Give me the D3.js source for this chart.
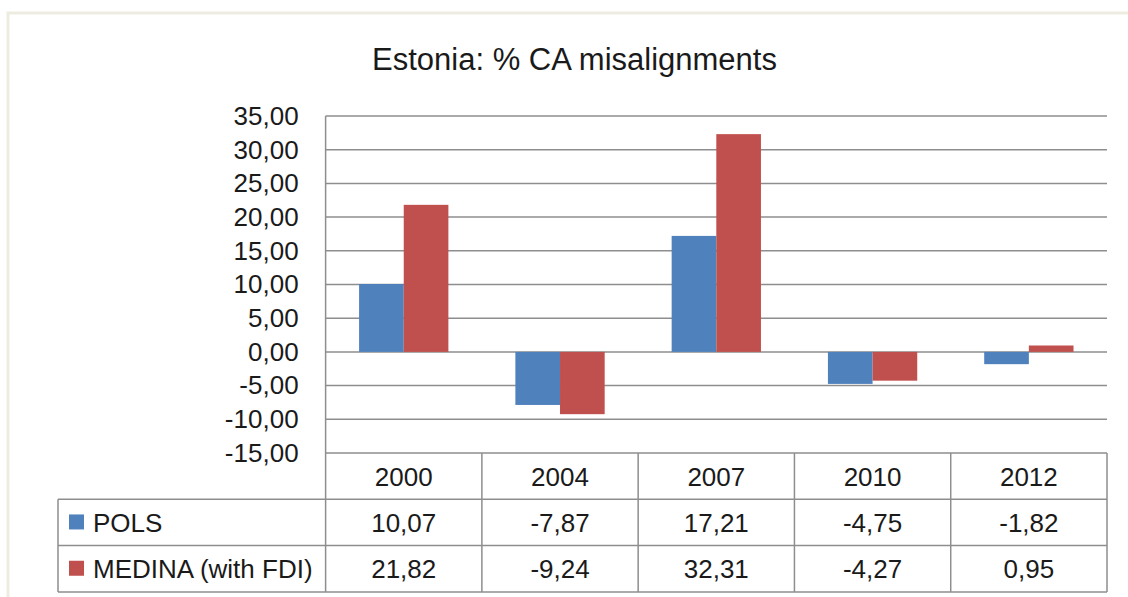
<!DOCTYPE html>
<html>
<head>
<meta charset="utf-8">
<script src="https://cdn.jsdelivr.net/npm/d3@7"></script>
<style>
    body { margin: 0; background: #fff; }
    text { font-family: "Liberation Sans", Arial, sans-serif; fill: #1a1a1a; }
</style>
</head>
<body>
<svg id="chart"></svg>
<script>
const years = ["2000", "2004", "2007", "2010", "2012"];
const seriesNames = ["POLS", "MEDINA (with FDI)"];
const polsValues = [10.07, -7.87, 17.21, -4.75, -1.82];
const medinaValues = [21.82, -9.24, 32.31, -4.27, 0.95];
const yTicks = [-15, -10, -5, 0, 5, 10, 15, 20, 25, 30, 35];
const seriesColors = ["#4F81BD", "#C0504D"];

const series = [
    { name: seriesNames[0], values: polsValues, color: seriesColors[0] },
    { name: seriesNames[1], values: medinaValues, color: seriesColors[1] }
];

const width = 1128;
const height = 597;
const plot = { left: 325.6, right: 1107, top: 116, bottom: 453 };
const rowH = 46.3;
const tableLeft = 58;
const gridColor = "#8e8e8e";

const svg = d3.select("#chart").attr("width", width).attr("height", height);

// Comma decimal, hyphen minus
const locale = d3.formatLocale({ decimal: ",", thousands: " ", grouping: [3], currency: ["", ""], minus: "-" });
const fmt = locale.format(".2f");

// Outer chart border
svg.append("path")
    .attr("d", `M8,${height} V13 H${width}`)
    .attr("fill", "none")
    .attr("stroke", "#EEECE1")
    .attr("stroke-width", 3);

// Title
svg.append("text")
    .attr("x", 574.5)
    .attr("y", 70)
    .attr("text-anchor", "middle")
    .style("font-size", "31px")
    .text("Estonia: % CA misalignments");

// Scales
const xScale = d3.scaleBand()
    .domain(years)
    .range([plot.left, plot.right])
    .padding(0);

const yScale = d3.scaleLinear()
    .domain([-15, 35])
    .range([plot.bottom, plot.top]);

const barW = xScale.bandwidth() / 3.5;

// Gridlines
svg.append("g")
    .selectAll("line")
    .data(yTicks)
    .enter()
    .append("line")
    .attr("x1", plot.left)
    .attr("x2", plot.right)
    .attr("y1", d => yScale(d))
    .attr("y2", d => yScale(d))
    .attr("stroke", gridColor)
    .attr("stroke-width", 1.5);

// Y axis labels
const yAxis = svg.append("g")
    .attr("transform", `translate(${plot.left},0)`)
    .call(d3.axisLeft(yScale).tickValues(yTicks).tickFormat(fmt).tickSize(0).tickPadding(27));
yAxis.select(".domain").remove();
yAxis.selectAll("text")
    .style("font-size", "26px")
    .attr("font-family", null)
    .attr("fill", "#1a1a1a");

// Bars
series.forEach((s, si) => {
    svg.append("g")
        .selectAll("rect")
        .data(s.values)
        .enter()
        .append("rect")
        .attr("x", (v, i) => xScale(years[i]) + barW * (0.75 + si))
        .attr("y", v => yScale(Math.max(0, v)))
        .attr("width", barW)
        .attr("height", v => Math.abs(yScale(v) - yScale(0)))
        .attr("fill", s.color);
});

// Vertical axis line through plot and table
const tableBottom = plot.bottom + rowH * 3;
svg.append("line")
    .attr("x1", plot.left).attr("x2", plot.left)
    .attr("y1", plot.top).attr("y2", tableBottom)
    .attr("stroke", gridColor).attr("stroke-width", 1.5);

// Data table
const table = svg.append("g");
years.forEach(y => {
    const x1 = xScale(y) + xScale.bandwidth();
    table.append("line")
        .attr("x1", x1).attr("x2", x1)
        .attr("y1", plot.bottom).attr("y2", tableBottom)
        .attr("stroke", gridColor).attr("stroke-width", 1.5);
    table.append("text")
        .attr("x", xScale(y) + xScale.bandwidth() / 2)
        .attr("y", plot.bottom + rowH / 2)
        .attr("dy", "0.36em")
        .attr("text-anchor", "middle")
        .style("font-size", "26px")
        .text(y);
});

// Row borders
[1, 2, 3].forEach(r => {
    table.append("line")
        .attr("x1", tableLeft).attr("x2", plot.right)
        .attr("y1", plot.bottom + rowH * r).attr("y2", plot.bottom + rowH * r)
        .attr("stroke", gridColor).attr("stroke-width", 1.5);
});
table.append("line")
    .attr("x1", tableLeft).attr("x2", tableLeft)
    .attr("y1", plot.bottom + rowH).attr("y2", tableBottom)
    .attr("stroke", gridColor).attr("stroke-width", 1.5);

series.forEach((s, si) => {
    const cy = plot.bottom + rowH * (si + 1.5);
    table.append("rect")
        .attr("x", 69).attr("y", cy - 8)
        .attr("width", 15).attr("height", 15)
        .attr("fill", s.color);
    table.append("text")
        .attr("x", 93).attr("y", cy)
        .attr("dy", "0.36em")
        .style("font-size", "26px")
        .text(s.name);
    s.values.forEach((v, i) => {
        table.append("text")
            .attr("x", xScale(years[i]) + xScale.bandwidth() / 2)
            .attr("y", cy)
            .attr("dy", "0.36em")
            .attr("text-anchor", "middle")
            .style("font-size", "26px")
            .text(fmt(v));
    });
});
</script>
</body>
</html>
